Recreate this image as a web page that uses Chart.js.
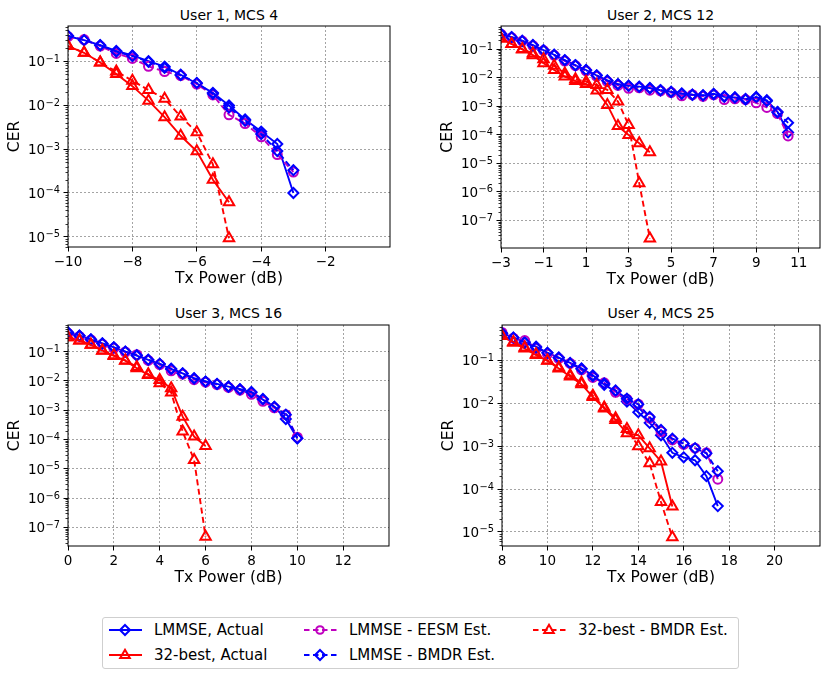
<!DOCTYPE html>
<html>
<head>
<meta charset="utf-8">
<script src="https://cdn.jsdelivr.net/npm/chart.js@4.4.1/dist/chart.umd.min.js"></script>
<style>
  body { margin: 0; background: #fff; font-family: 'DejaVu Sans', sans-serif; }
  #fig { position: relative; width: 830px; height: 679px; }
  canvas { position: absolute; }
  .ttl { position: absolute; text-align: center; font-size: 14px; line-height: 18px; color: #000; }
  #legend { position: absolute; left: 102px; top: 617px; width: 637px; height: 52px;
            border: 1px solid #cfcfcf; border-radius: 3px; box-sizing: border-box; }
  .ent { position: absolute; height: 20px; font-size: 15px; line-height: 20px; white-space: nowrap; }
  .ent svg { position: absolute; left: 0; top: 3px; }
  .ent span { position: absolute; left: 45px; top: 0; }
</style>
</head>
<body>
<div id="fig">
  <div class="ttl" style="left:68px;width:322px;top:6px">User 1, MCS 4</div>
  <div class="ttl" style="left:501px;width:319px;top:6px">User 2, MCS 12</div>
  <div class="ttl" style="left:68px;width:321px;top:304px">User 3, MCS 16</div>
  <div class="ttl" style="left:502px;width:318px;top:304px">User 4, MCS 25</div>
  <canvas id="c1" width="405" height="288" style="left:0;top:0"></canvas>
  <canvas id="c2" width="397" height="289" style="left:433px;top:0"></canvas>
  <canvas id="c3" width="405" height="292" style="left:0;top:295px"></canvas>
  <canvas id="c4" width="396" height="292" style="left:434px;top:295px"></canvas>
  <div id="legend"></div>
</div>
<script>
// ---- User 1, MCS 4 ----
const u1PowerLmmse = [-10, -9.5, -9, -8.5, -8, -7.5, -7, -6.5, -6, -5.5, -5, -4.5, -4, -3.5, -3];
const u1LmmseActual = [0.37, 0.30, 0.23, 0.17, 0.135, 0.10, 0.075, 0.049, 0.031, 0.019, 0.0098, 0.0047, 0.0025, 0.0013, 0.0001];
const u1LmmseEesm = [0.36, 0.31, 0.22, 0.15, 0.115, 0.076, 0.058, 0.047, 0.030, 0.017, 0.006, 0.0038, 0.0019, 0.00075, 0.0003];
const u1LmmseBmdr = [0.38, 0.30, 0.23, 0.165, 0.13, 0.097, 0.07, 0.048, 0.032, 0.018, 0.0088, 0.0044, 0.0022, 0.0009, 0.00033];
const u1PowerBest = [-10, -9.5, -9, -8.5, -8, -7.5, -7, -6.5, -6, -5.5, -5];
const u1BestActual = [0.22, 0.155, 0.093, 0.051, 0.027, 0.0126, 0.0053, 0.0020, 0.00089, 0.0002, 0.0000615];
const u1BestBmdr = [0.22, 0.155, 0.093, 0.058, 0.036, 0.022, 0.014, 0.0055, 0.0024, 0.00045, 0.0000093];
const u1XTicks = [-10, -8, -6, -4, -2];
const u1YTicks = [1e-5, 1e-4, 1e-3, 1e-2, 1e-1];

// ---- User 2, MCS 12 ----
const u2PowerLmmse = [-3, -2.5, -2, -1.5, -1, -0.5, 0, 0.5, 1, 1.5, 2, 2.5, 3, 3.5, 4, 4.5, 5, 5.5, 6, 6.5, 7, 7.5, 8, 8.5, 9, 9.5, 10, 10.5];
const u2LmmseActual = [0.34, 0.26, 0.195, 0.138, 0.092, 0.063, 0.041, 0.027, 0.0184, 0.0118, 0.0079, 0.0059, 0.0052, 0.0048, 0.0043, 0.0036, 0.0032, 0.0028, 0.0025, 0.0023, 0.0027, 0.0021, 0.0020, 0.0018, 0.0020, 0.0016, 0.00063, 0.00012];
const u2LmmseEesm = [0.33, 0.25, 0.19, 0.13, 0.088, 0.06, 0.038, 0.026, 0.017, 0.011, 0.0072, 0.0053, 0.0042, 0.0044, 0.0036, 0.0034, 0.0030, 0.0023, 0.0025, 0.0022, 0.0025, 0.0017, 0.0018, 0.0017, 0.0013, 0.0009, 0.00055, 0.00009];
const u2LmmseBmdr = [0.34, 0.26, 0.19, 0.135, 0.09, 0.062, 0.04, 0.027, 0.018, 0.012, 0.0078, 0.0058, 0.0051, 0.0047, 0.0042, 0.0036, 0.0031, 0.0027, 0.0025, 0.0024, 0.0026, 0.0022, 0.0020, 0.0017, 0.0021, 0.0015, 0.0006, 0.00026];
const u2PowerBest = [-3, -2.5, -2, -1.5, -1, -0.5, 0, 0.5, 1, 1.5, 2, 2.5, 3, 3.5, 4];
const u2BestActual = [0.235, 0.15, 0.097, 0.061, 0.032, 0.0184, 0.0108, 0.0076, 0.0059, 0.0035, 0.0011, 0.0002, 0.000097, 0.00005, 0.000024];
const u2BestBmdr = [0.235, 0.15, 0.10, 0.07, 0.044, 0.026, 0.014, 0.0087, 0.0072, 0.0055, 0.0037, 0.00145, 0.00022, 0.000002, 0.000000023];
const u2XTicks = [-3, -1, 1, 3, 5, 7, 9, 11];
const u2YTicks = [1e-7, 1e-6, 1e-5, 1e-4, 1e-3, 1e-2, 1e-1];

// ---- User 3, MCS 16 ----
const u3PowerLmmse = [0, 0.5, 1, 1.5, 2, 2.5, 3, 3.5, 4, 4.5, 5, 5.5, 6, 6.5, 7, 7.5, 8, 8.5, 9, 9.5, 10];
const u3LmmseActual = [0.45, 0.35, 0.26, 0.19, 0.14, 0.10, 0.073, 0.052, 0.038, 0.025, 0.018, 0.0123, 0.0095, 0.0079, 0.0064, 0.0052, 0.004, 0.0023, 0.0013, 0.0005, 0.00011];
const u3LmmseEesm = [0.42, 0.33, 0.25, 0.18, 0.13, 0.097, 0.078, 0.05, 0.036, 0.022, 0.017, 0.011, 0.009, 0.0075, 0.006, 0.0048, 0.0035, 0.002, 0.0012, 0.0007, 0.00012];
const u3LmmseBmdr = [0.45, 0.35, 0.26, 0.19, 0.14, 0.10, 0.075, 0.053, 0.038, 0.026, 0.018, 0.012, 0.0095, 0.0078, 0.0063, 0.0051, 0.0042, 0.0024, 0.0013, 0.0007, 0.00011];
const u3PowerBest = [0, 0.5, 1, 1.5, 2, 2.5, 3, 3.5, 4, 4.5, 5, 5.5, 6];
const u3BestActual = [0.31, 0.24, 0.17, 0.108, 0.071, 0.049, 0.027, 0.016, 0.0107, 0.0056, 0.0006, 0.000126, 0.00006];
const u3BestBmdr = [0.31, 0.24, 0.17, 0.11, 0.075, 0.05, 0.03, 0.017, 0.0083, 0.004, 0.000186, 0.00002, 0.000000048];
const u3XTicks = [0, 2, 4, 6, 8, 10, 12];
const u3YTicks = [1e-7, 1e-6, 1e-5, 1e-4, 1e-3, 1e-2, 1e-1];

// ---- User 4, MCS 25 ----
const u4PowerLmmse = [8, 8.5, 9, 9.5, 10, 10.5, 11, 11.5, 12, 12.5, 13, 13.5, 14, 14.5, 15, 15.5, 16, 16.5, 17, 17.5];
const u4LmmseActual = [0.43, 0.34, 0.27, 0.21, 0.15, 0.117, 0.088, 0.065, 0.045, 0.027, 0.019, 0.011, 0.0062, 0.0035, 0.0018, 0.0007, 0.00055, 0.00047, 0.0002, 0.00004];
const u4LmmseEesm = [0.45, 0.33, 0.29, 0.19, 0.14, 0.11, 0.085, 0.06, 0.04, 0.03, 0.018, 0.0125, 0.0095, 0.0045, 0.0022, 0.0014, 0.0011, 0.0009, 0.0007, 0.00017];
const u4LmmseBmdr = [0.43, 0.34, 0.26, 0.2, 0.15, 0.115, 0.085, 0.063, 0.043, 0.029, 0.02, 0.0128, 0.0095, 0.0048, 0.0024, 0.0015, 0.00115, 0.0009, 0.00068, 0.00026];
const u4PowerBest = [8, 8.5, 9, 9.5, 10, 10.5, 11, 11.5, 12, 12.5, 13, 13.5, 14, 14.5, 15, 15.5];
const u4BestActual = [0.37, 0.26, 0.19, 0.133, 0.098, 0.065, 0.042, 0.028, 0.014, 0.0076, 0.0041, 0.0020, 0.0018, 0.00089, 0.00044, 0.000039];
const u4BestBmdr = [0.37, 0.27, 0.2, 0.14, 0.1, 0.068, 0.045, 0.03, 0.015, 0.008, 0.0045, 0.0025, 0.001, 0.0004, 0.00005, 0.0000075];
const u4XTicks = [8, 10, 12, 14, 16, 18, 20];
const u4YTicks = [1e-5, 1e-4, 1e-3, 1e-2, 1e-1];

const seriesLabels = ['LMMSE, Actual', '32-best, Actual', 'LMMSE - EESM Est.', 'LMMSE - BMDR Est.', '32-best - BMDR Est.'];

const BLUE = '#0000ff', RED = '#ff0000', MAGENTA = '#bf00bf';
const DASH = [6, 3.5];
const FONT = "'DejaVu Sans', sans-serif";

Chart.defaults.font.family = FONT;
Chart.defaults.color = '#000';

function pts(xs, ys) {
    return xs.map((x, i) => ({ x: x, y: ys[i] }));
}

// frame (all four spines), minor log ticks and 10^n labels, like matplotlib
const framePlugin = {
    id: 'frame',
    afterDraw(chart) {
        const { ctx, chartArea: a } = chart;
        const y = chart.scales.y;
        ctx.save();
        ctx.strokeStyle = '#000';
        ctx.lineWidth = 0.8;
        const lo = Math.floor(Math.log10(y.min)), hi = Math.ceil(Math.log10(y.max));
        for (let e = lo; e < hi; e++) {
            for (let k = 2; k < 10; k++) {
                const v = k * Math.pow(10, e);
                if (v < y.min || v > y.max) continue;
                const py = Math.round(y.getPixelForValue(v)) + 0.5;
                ctx.beginPath();
                ctx.moveTo(a.left, py);
                ctx.lineTo(a.left - 2.5, py);
                ctx.stroke();
            }
        }
        ctx.lineWidth = 1;
        ctx.strokeRect(a.left, a.top, a.right - a.left, a.bottom - a.top);

        // decade labels with a real superscript exponent
        ctx.fillStyle = '#000';
        ctx.textBaseline = 'alphabetic';
        y.ticks.forEach(t => {
            const py = y.getPixelForValue(t.value);
            const e = Math.round(Math.log10(t.value));
            const expText = (e < 0 ? '\u2212' : '') + Math.abs(e);
            ctx.font = '9.8px ' + FONT;
            const wExp = ctx.measureText(expText).width;
            const right = a.left - 8;
            ctx.textAlign = 'left';
            ctx.fillText(expText, right - wExp, py + 0.5);
            ctx.font = '13.5px ' + FONT;
            ctx.textAlign = 'right';
            ctx.fillText('10', right - wExp - 0.5, py + 5);
        });
        ctx.restore();
    }
};

function makeChart(id, p) {
    const datasets = [
        { label: seriesLabels[0], data: pts(p.xL, p.lmmseActual), borderColor: BLUE, pointStyle: 'rectRot', pointRadius: 5, borderDash: [] },
        { label: seriesLabels[1], data: pts(p.xB, p.bestActual), borderColor: RED, pointStyle: 'triangle', pointRadius: 6, borderDash: [] },
        { label: seriesLabels[2], data: pts(p.xL, p.lmmseEesm), borderColor: MAGENTA, pointStyle: 'circle', pointRadius: 4.5, borderDash: DASH },
        { label: seriesLabels[3], data: pts(p.xL, p.lmmseBmdr), borderColor: BLUE, pointStyle: 'rectRot', pointRadius: 5, borderDash: DASH },
        { label: seriesLabels[4], data: pts(p.xB, p.bestBmdr), borderColor: RED, pointStyle: 'triangle', pointRadius: 6, borderDash: DASH }
    ].map((d, i) => Object.assign(d, {
        borderWidth: 1.9,
        pointBorderColor: d.borderColor,
        pointBackgroundColor: 'rgba(0,0,0,0)',
        pointBorderWidth: 2,
        backgroundColor: 'rgba(0,0,0,0)',
        fill: false,
        tension: 0,
        order: 5 - i
    }));

    return new Chart(document.getElementById(id), {
        type: 'line',
        data: { datasets: datasets },
        plugins: [framePlugin],
        options: {
            responsive: false,
            animation: false,
            events: [],
            layout: { padding: { top: p.padTop, right: p.padRight, left: 0, bottom: 0 } },
            plugins: { legend: { display: false }, tooltip: { enabled: false } },
            scales: {
                x: {
                    type: 'linear',
                    min: p.xMin,
                    max: p.xMax,
                    afterBuildTicks: s => { s.ticks = p.xTicks.map(v => ({ value: v })); },
                    afterFit: s => { s.height = p.xHeight; },
                    ticks: {
                        autoSkip: false,
                        maxRotation: 0,
                        padding: 3,
                        font: { size: 13.5 },
                        callback: v => (v < 0 ? '\u2212' + Math.abs(v) : String(v))
                    },
                    grid: { color: 'rgba(0,0,0,0.45)', lineWidth: 0.8, tickColor: '#000', tickLength: 4.5, tickWidth: 1, tickBorderDash: [] },
                    border: { display: false, dash: [2, 2] },
                    title: { display: true, text: 'Tx Power (dB)', font: { size: 15.5 }, padding: { top: 0, bottom: 0 } }
                },
                y: {
                    type: 'logarithmic',
                    min: p.yMin,
                    max: p.yMax,
                    afterBuildTicks: s => { s.ticks = p.yTicks.map(v => ({ value: v, major: true })); },
                    afterFit: s => { s.width = 68; },
                    ticks: { display: false, autoSkip: false },
                    grid: { color: 'rgba(0,0,0,0.45)', lineWidth: 0.8, tickColor: '#000', tickLength: 4.5, tickWidth: 1, tickBorderDash: [] },
                    border: { display: false, dash: [2, 2] },
                    title: { display: true, text: 'CER', font: { size: 15.5 }, padding: { top: 6, bottom: 0 } }
                }
            }
        }
    });
}

makeChart('c1', {
    xL: u1PowerLmmse, xB: u1PowerBest,
    lmmseActual: u1LmmseActual, bestActual: u1BestActual, lmmseEesm: u1LmmseEesm, lmmseBmdr: u1LmmseBmdr, bestBmdr: u1BestBmdr,
    xMin: -10, xMax: 0, xTicks: u1XTicks, yMin: 5.9e-6, yMax: 0.63, yTicks: u1YTicks,
    padTop: 26, padRight: 15, xHeight: 41
});
makeChart('c2', {
    xL: u2PowerLmmse, xB: u2PowerBest,
    lmmseActual: u2LmmseActual, bestActual: u2BestActual, lmmseEesm: u2LmmseEesm, lmmseBmdr: u2LmmseBmdr, bestBmdr: u2BestBmdr,
    xMin: -3, xMax: 12, xTicks: u2XTicks, yMin: 1.07e-8, yMax: 0.64, yTicks: u2YTicks,
    padTop: 26, padRight: 10, xHeight: 41
});
makeChart('c3', {
    xL: u3PowerLmmse, xB: u3PowerBest,
    lmmseActual: u3LmmseActual, bestActual: u3BestActual, lmmseEesm: u3LmmseEesm, lmmseBmdr: u3LmmseBmdr, bestBmdr: u3BestBmdr,
    xMin: 0, xMax: 14, xTicks: u3XTicks, yMin: 2.3e-8, yMax: 0.81, yTicks: u3YTicks,
    padTop: 30, padRight: 16, xHeight: 41
});
makeChart('c4', {
    xL: u4PowerLmmse, xB: u4PowerBest,
    lmmseActual: u4LmmseActual, bestActual: u4BestActual, lmmseEesm: u4LmmseEesm, lmmseBmdr: u4LmmseBmdr, bestBmdr: u4BestBmdr,
    xMin: 8, xMax: 22, xTicks: u4XTicks, yMin: 4.7e-6, yMax: 0.67, yTicks: u4YTicks,
    padTop: 30, padRight: 10, xHeight: 41
});

// legend (matplotlib-style, 3 columns)
function handleSvg(color, dashed, marker) {
    let m = '';
    if (marker === 'diamond') m = '<path d="M16 2 L21 7 L16 12 L11 7 Z"/>';
    if (marker === 'triangle') m = '<path d="M16 1.8 L20.8 10 L11.2 10 Z"/>';
    if (marker === 'circle') m = '<circle cx="16" cy="7" r="3.8"/>';
    const dash = dashed ? ' stroke-dasharray="5.5 3.5"' : '';
    return '<svg width="33" height="14"><line x1="0" y1="7" x2="33" y2="7" stroke="' + color + '" stroke-width="1.8"' + dash + '/>' +
        '<g fill="none" stroke="' + color + '" stroke-width="2">' + m + '</g></svg>';
}
const legendItems = [
    { col: 0, row: 0, color: BLUE, dashed: false, marker: 'diamond' },
    { col: 0, row: 1, color: RED, dashed: false, marker: 'triangle' },
    { col: 1, row: 0, color: MAGENTA, dashed: true, marker: 'circle' },
    { col: 1, row: 1, color: BLUE, dashed: true, marker: 'diamond' },
    { col: 2, row: 0, color: RED, dashed: true, marker: 'triangle' }
];
const colLeft = [6, 201, 430];
const legend = document.getElementById('legend');
legendItems.forEach((it, i) => {
    const div = document.createElement('div');
    div.className = 'ent';
    div.style.left = colLeft[it.col] + 'px';
    div.style.top = (2 + it.row * 25) + 'px';
    div.innerHTML = handleSvg(it.color, it.dashed, it.marker) + '<span>' + seriesLabels[i] + '</span>';
    legend.appendChild(div);
});
</script>
</body>
</html>
